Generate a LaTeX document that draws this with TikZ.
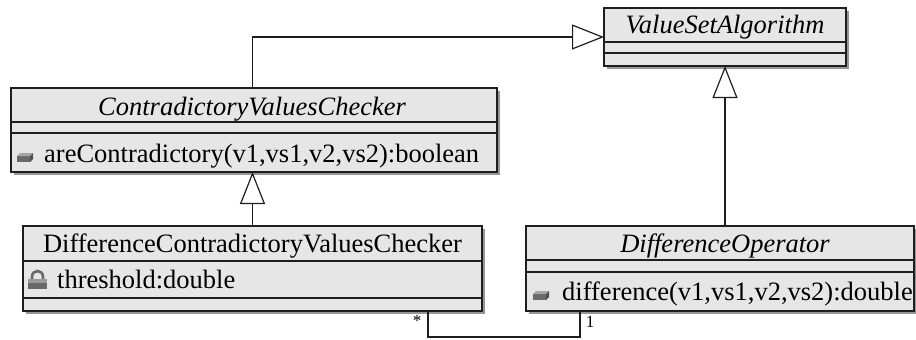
\documentclass[tikz,border=0pt]{standalone}
\usepackage{fontspec}
\setmainfont{Liberation Serif}
\usetikzlibrary{arrows.meta,shadows}
\definecolor{boxfill}{RGB}{230,230,230}
\definecolor{shadowgray}{RGB}{150,150,150}
\definecolor{icondark}{RGB}{105,105,105}
\definecolor{iconlight}{RGB}{165,165,165}
\definecolor{icondeep}{RGB}{80,80,80}
\definecolor{linecol}{RGB}{30,30,30}
\begin{document}
\begin{tikzpicture}[x=1pt,y=-1pt,
  umlbox/.style={draw=linecol, line width=1.2pt, fill=boxfill,
    drop shadow={shadow xshift=3pt, shadow yshift=-3pt, fill=shadowgray, opacity=1},
    inner sep=0pt, outer sep=0pt, anchor=north west},
  sepline/.style={draw=linecol, line width=1.2pt},
  titleit/.style={font=\fontsize{26.5}{30}\selectfont\itshape, anchor=base, inner sep=0pt},
  titleup/.style={font=\fontsize{26.5}{30}\selectfont, anchor=base, inner sep=0pt},
  member/.style={font=\fontsize{26.5}{30}\selectfont, anchor=base west, inner sep=0pt},
  mult/.style={font=\fontsize{17}{20}\selectfont, inner sep=0pt},
  gen/.style={draw=linecol, line width=1.2pt, -{Triangle[length=32pt, width=25pt, fill=white]}},
  assoc/.style={draw=linecol, line width=1.2pt},
  methodicon/.pic={
    \fill[icondark] (0,3) rectangle (13,9);
    \fill[iconlight] (0,3) -- (3,0) -- (16,0) -- (13,3) -- cycle;
    \fill[icondeep] (13,3) -- (16,0) -- (16,6) -- (13,9) -- cycle;
  },
  lockicon/.pic={
    \draw[icondark, line width=2.6pt] (4,10) -- (4,7) .. controls (4,-1) and (15,-1) .. (15,7) -- (15,10);
    \fill[icondark] (0,9) rectangle (19,19);
    \fill[iconlight!80!icondark] (0,9) rectangle (19,13);
  }
]
\useasboundingbox (0,0) rectangle (916,340);

% boxes
\node[umlbox, minimum width=242pt, minimum height=58pt] (vsa) at (604,8) {};
\node[umlbox, minimum width=486pt, minimum height=84pt] (cvc) at (11,88) {};
\node[umlbox, minimum width=459pt, minimum height=85pt] (dcvc) at (23,226) {};
\node[umlbox, minimum width=388pt, minimum height=85pt] (do) at (526,226) {};

% compartments
\draw[sepline] (vsa.west |- 0,42) -- (vsa.east |- 0,42);
\draw[sepline] (vsa.west |- 0,53) -- (vsa.east |- 0,53);
\draw[sepline] (cvc.west |- 0,122) -- (cvc.east |- 0,122);
\draw[sepline] (cvc.west |- 0,133) -- (cvc.east |- 0,133);
\draw[sepline] (dcvc.west |- 0,261) -- (dcvc.east |- 0,261);
\draw[sepline] (dcvc.west |- 0,298) -- (dcvc.east |- 0,298);
\draw[sepline] (do.west |- 0,260) -- (do.east |- 0,260);
\draw[sepline] (do.west |- 0,272) -- (do.east |- 0,272);

% texts
\node[titleit] (vsaT) at (725,34) {ValueSetAlgorithm};
\node[titleit] (cvcT) at (252,115) {ContradictoryValuesChecker};
\node[titleup] (dcvcT) at (252.5,252) {DifferenceContradictoryValuesChecker};
\node[titleit] (doT) at (725,252) {DifferenceOperator};
\node[member] (cvcM) at (44,162) {areContradictory(v1,vs1,v2,vs2):boolean};
\node[member] (dcvcA) at (57,288) {threshold:double};
\node[member] (doM) at (562,300) {difference(v1,vs1,v2,vs2):double};

% icons
\pic at (17,153) {methodicon};
\pic at (533,291) {methodicon};
\pic at (28,270) {lockicon};

% generalizations
\draw[gen] (cvc.north -| dcvc.north) |- (vsa.west);
\draw[gen] (dcvc.north) -- (dcvc.north |- cvc.south);
\draw[gen] (vsa.south |- do.north) -- (vsa.south);

% association
\draw[assoc] ([xshift=175.5pt]dcvc.south) -- ++(0,26) -| ([xshift=-140pt]do.south);
\node[mult] (star) at (417,321) {*};
\node[mult] (one) at (590,322) {1};
\end{tikzpicture}
\end{document}
